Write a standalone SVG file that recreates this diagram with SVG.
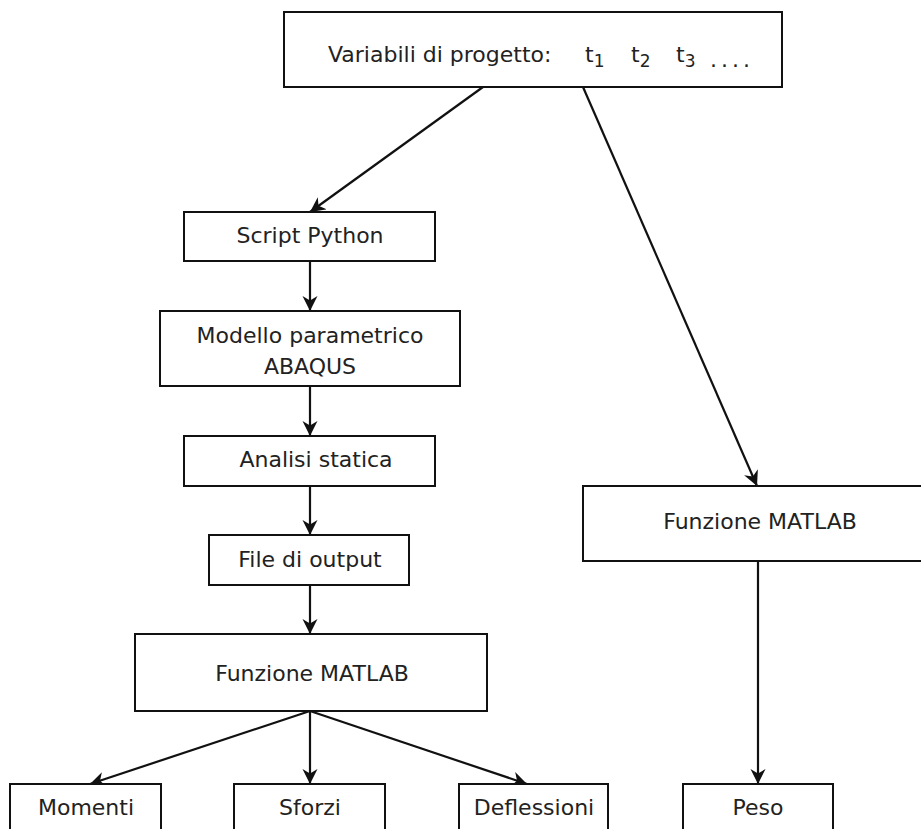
<svg xmlns="http://www.w3.org/2000/svg" width="921" height="829" viewBox="0 0 921 829">
  <style>
    .box { fill: #ffffff; stroke: #111111; stroke-width: 2; }
    .lbl { font-family: "DejaVu Sans", "Liberation Sans", sans-serif; font-size: 22px; fill: #222222; text-anchor: middle; }
    .lbl-l { font-family: "DejaVu Sans", "Liberation Sans", sans-serif; font-size: 22px; fill: #222222; }
    .edge { stroke: #111111; stroke-width: 2.2; fill: none; marker-end: url(#arrow); }
  </style>
  <defs>
    <marker id="arrow" markerUnits="userSpaceOnUse" markerWidth="16" markerHeight="16" refX="15" refY="7.5" orient="auto">
      <path d="M0,0 L15,7.5 L0,15 L4.5,7.5 z" fill="#111111"/>
    </marker>
  </defs>
  <rect width="921" height="829" fill="#ffffff"/>

  <g id="connectors">
    <line class="edge" x1="483" y1="87" x2="310" y2="212"/>
    <line class="edge" x1="583" y1="87" x2="757" y2="486"/>
    <line class="edge" x1="310" y1="261" x2="310" y2="311"/>
    <line class="edge" x1="310" y1="386" x2="310" y2="436"/>
    <line class="edge" x1="310" y1="486" x2="310" y2="535"/>
    <line class="edge" x1="310" y1="585" x2="310" y2="634"/>
    <line class="edge" x1="310" y1="711" x2="90" y2="784"/>
    <line class="edge" x1="310" y1="711" x2="310" y2="784"/>
    <line class="edge" x1="310" y1="711" x2="527" y2="784"/>
    <line class="edge" x1="758" y1="561" x2="758" y2="784"/>
  </g>

  <g id="variabili">
    <rect class="box" x="284" y="12" width="498" height="75"/>
    <text class="lbl-l" x="328" y="62">Variabili di progetto:</text>
    <text class="lbl-l" x="585" y="62">t<tspan dy="5" font-size="17">1</tspan></text>
    <text class="lbl-l" x="631" y="62">t<tspan dy="5" font-size="17">2</tspan></text>
    <text class="lbl-l" x="676" y="62">t<tspan dy="5" font-size="17">3</tspan></text>
    <text class="lbl-l" x="710" y="67" letter-spacing="4">....</text>
  </g>

  <g id="script-python">
    <rect class="box" x="184" y="212" width="251" height="49"/>
    <text class="lbl" x="310" y="243">Script Python</text>
  </g>

  <g id="modello">
    <rect class="box" x="160" y="311" width="300" height="75"/>
    <text class="lbl" x="310" y="343">Modello parametrico</text>
    <text class="lbl" x="310" y="374">ABAQUS</text>
  </g>

  <g id="analisi">
    <rect class="box" x="184" y="436" width="251" height="50"/>
    <text class="lbl" x="316" y="467">Analisi statica</text>
  </g>

  <g id="file-output">
    <rect class="box" x="209" y="535" width="200" height="50"/>
    <text class="lbl" x="310" y="567">File di output</text>
  </g>

  <g id="matlab-sx">
    <rect class="box" x="135" y="634" width="352" height="77"/>
    <text class="lbl" x="312" y="681">Funzione MATLAB</text>
  </g>

  <g id="matlab-dx">
    <rect class="box" x="583" y="486" width="354" height="75"/>
    <text class="lbl" x="760" y="529">Funzione MATLAB</text>
  </g>

  <g id="momenti">
    <rect class="box" x="10" y="784" width="151" height="60"/>
    <text class="lbl" x="86" y="815">Momenti</text>
  </g>

  <g id="sforzi">
    <rect class="box" x="234" y="784" width="151" height="60"/>
    <text class="lbl" x="310" y="815">Sforzi</text>
  </g>

  <g id="deflessioni">
    <rect class="box" x="459" y="784" width="149" height="60"/>
    <text class="lbl" x="534" y="815">Deflessioni</text>
  </g>

  <g id="peso">
    <rect class="box" x="683" y="784" width="150" height="60"/>
    <text class="lbl" x="758" y="815">Peso</text>
  </g>
</svg>
